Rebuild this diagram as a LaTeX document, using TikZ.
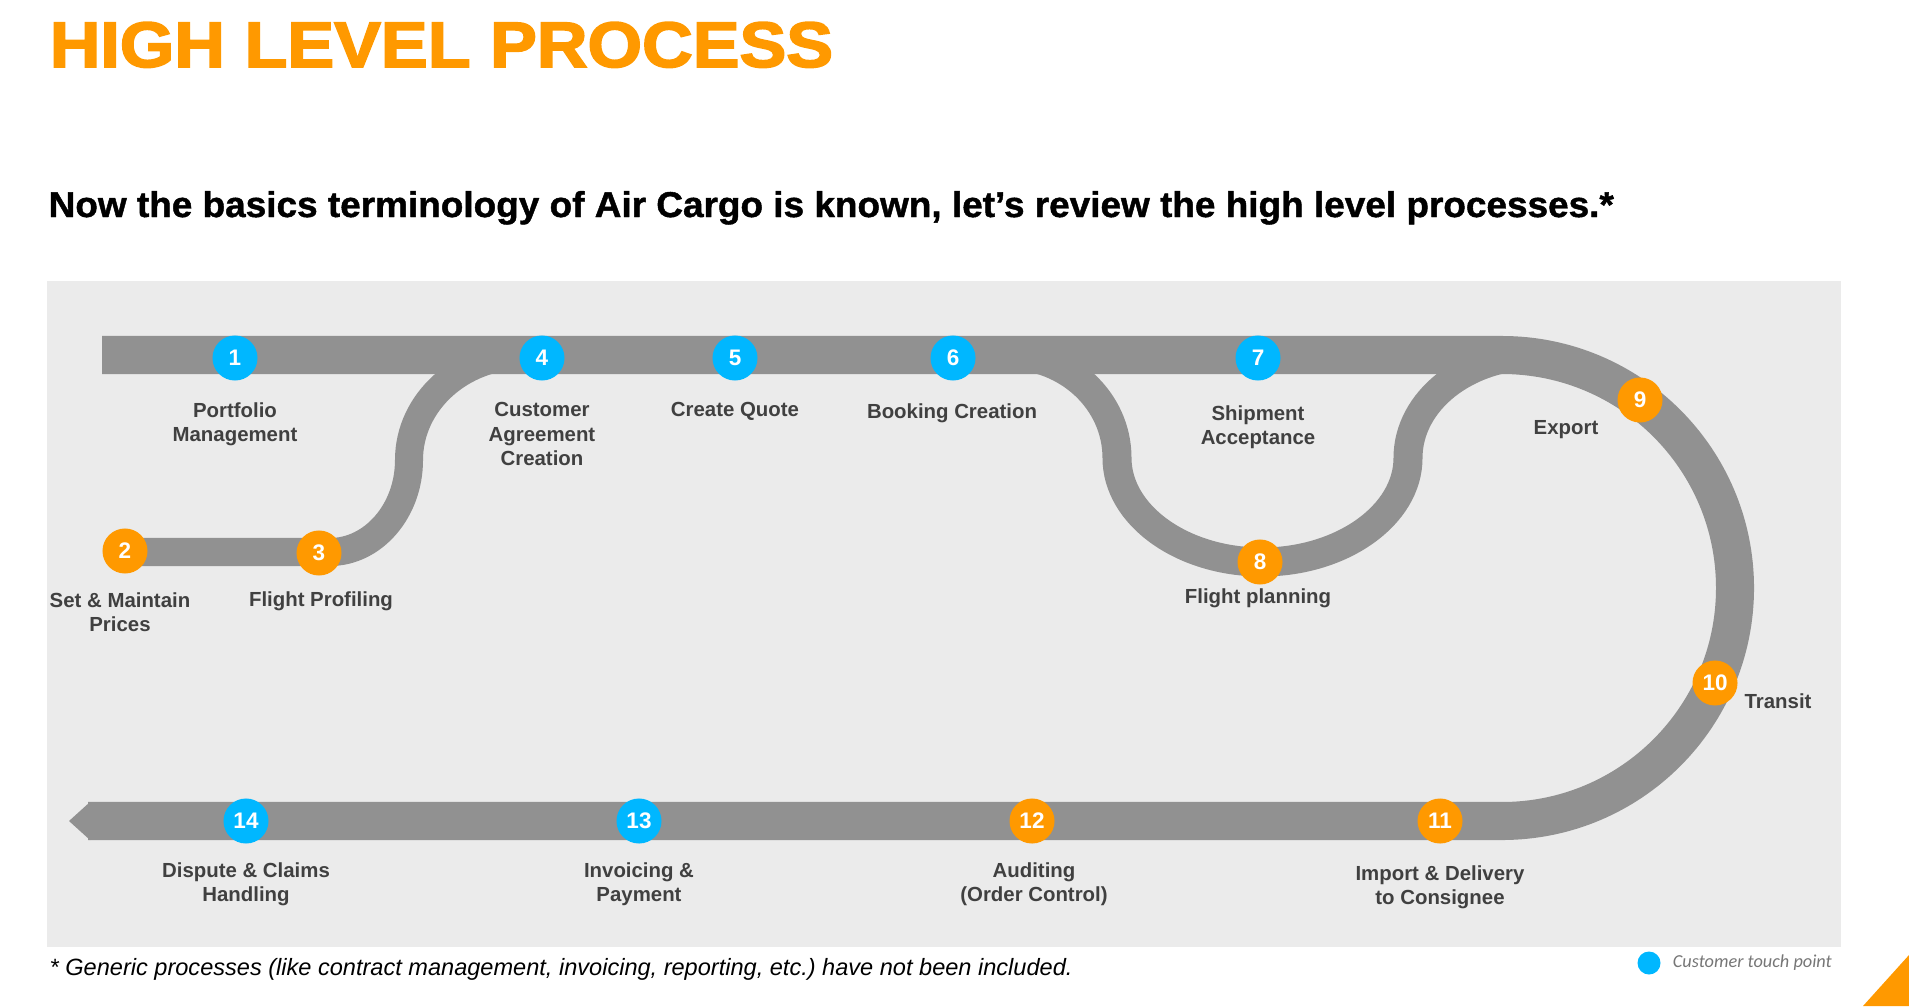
\documentclass[tikz,border=0pt]{standalone}
\usepackage{fontspec}
\setmainfont{Liberation Sans}
\newfontfamily\notefont{Carlito}
\newfontfamily\heavyfont[FakeBold=2.5]{Liberation Sans Bold}
\newfontfamily\subfont[FakeBold=1.2]{Liberation Sans Bold}
\usetikzlibrary{positioning}
\definecolor{acorange}{RGB}{255,153,0}
\definecolor{acblue}{RGB}{0,183,255}
\definecolor{pipegray}{RGB}{145,145,145}
\definecolor{panelgray}{RGB}{235,235,235}
\definecolor{labelgray}{RGB}{64,64,64}
\definecolor{keygray}{RGB}{118,118,118}
\begin{document}
\begin{tikzpicture}[x=0.01cm,y=-0.01cm,
  pipe/.style={draw=pipegray,line width=0.38cm},
  branch/.style={draw=pipegray,line width=0.29cm},
  station/.style={circle,minimum size=0.45cm,inner sep=0pt,text=white,
    font=\bfseries\fontsize{6.4pt}{7pt}\selectfont},
  lbl/.style={anchor=north,align=center,inner sep=0pt,text=labelgray,
    font=\bfseries\fontsize{5.8pt}{6.9pt}\selectfont}]
\useasboundingbox (0,0) rectangle (1909,1006);
\node[anchor=base west,inner sep=0pt,text=acorange,font=\heavyfont\fontsize{18.3pt}{22pt}\selectfont]
  (title) at (49,67) {\scalebox{1.09}[1]{HIGH LEVEL PROCESS}};
\node[anchor=base west,inner sep=0pt,font=\subfont\fontsize{10.2pt}{12pt}\selectfont]
  (subtitle) at (48,217) {\scalebox{1.03}[1]{Now the basics terminology of Air Cargo is known, let’s review the high level processes.*}};
\fill[panelgray] (47,281) rectangle (1841,947);
% track
\draw[pipe] (102,355) -- (1502,355) .. controls (1630.7,355) and (1735,459.3) .. (1735,588)
  .. controls (1735,716.7) and (1630.7,821) .. (1502,821) -- (88,821);
\fill[pipegray] (90,802) -- (69,821) -- (90,840) -- cycle;
\draw[pipe,line width=0.28cm] (125,552) -- (330,552) .. controls (373,552) and (409,511) .. (409,460)
  .. controls (409,402) and (461,355) .. (525,355);
\draw[branch] (1007,355) .. controls (1068,355) and (1117,401) .. (1117,458)
  .. controls (1117,515) and (1182,562) .. (1262,562) .. controls (1342,562) and (1408,515) .. (1408,458)
  .. controls (1408,401) and (1466,355) .. (1538,355);
% stations
\foreach \n/\x/\y/\c in {1/235/358/acblue,2/125/551/acorange,3/319/553/acorange,4/542/358/acblue,
  5/735/358/acblue,6/953/358/acblue,7/1258/358/acblue,8/1260/562/acorange,9/1640/400/acorange,
  10/1715/683/acorange,11/1440/821/acorange,12/1032/821/acorange,13/639/821/acblue,14/246/821/acblue}
  \node[station,fill=\c] (s\n) at (\x,\y) {\n};
\node[lbl] (l1) at (235,402) {Portfolio\\Management};
\node[lbl] (l2) at (120,592) {Set \& Maintain\\Prices};
\node[lbl] (l3) at (321,591) {Flight Profiling};
\node[lbl] (l4) at (542,402) {Customer\\Agreement\\Creation};
\node[lbl] (l5) at (735,402) {Create Quote};
\node[lbl] (l6) at (952,403) {Booking Creation};
\node[lbl] (l7) at (1258,405) {Shipment\\Acceptance};
\node[lbl] (l8) at (1258,588) {Flight planning};
\node[lbl] (l9) at (1566,420) {Export};
\node[lbl] (l10) at (1778,693) {Transit};
\node[lbl] (l11) at (1440,865) {Import \& Delivery\\to Consignee};
\node[lbl] (l12) at (1034,862) {Auditing\\(Order Control)};
\node[lbl] (l13) at (639,862) {Invoicing \&\\Payment};
\node[lbl] (l14) at (246,862) {Dispute \& Claims\\Handling};
% footer
\node[anchor=base west,inner sep=0pt,font=\itshape\fontsize{6.7pt}{8pt}\selectfont\frenchspacing]
  (note) at (49,975) {* Generic processes (like contract management, invoicing, reporting, etc.) have not been included.};
\node[circle,fill=acblue,minimum size=0.23cm,inner sep=0pt] (key) at (1649,963) {};
\node[right=1.1mm of key,inner sep=0pt,text=keygray,font=\notefont\itshape\fontsize{5.2pt}{6pt}\selectfont]
  (keytext) {Customer touch point};
\fill[acorange] (1863,1006) -- (1909,955) -- (1909,1006) -- cycle;
\end{tikzpicture}
\end{document}
